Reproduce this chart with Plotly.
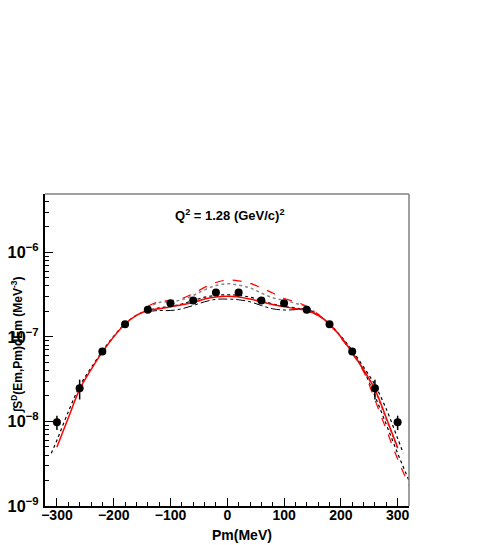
import plotly.graph_objects as go

# measured points
pm_data = [-300, -260, -220, -180, -140, -100, -60, -20, 20, 60, 100, 140, 180, 220, 260, 300]
sd_data = [9.8e-9, 2.47e-8, 6.7e-8, 1.41e-7, 2.09e-7, 2.5e-7, 2.69e-7, 3.34e-7,
           3.34e-7, 2.69e-7, 2.5e-7, 2.09e-7, 1.41e-7, 6.7e-8, 2.47e-8, 9.8e-9]
sd_err = [1.9e-9, 6.5e-9, 3e-9, 4e-9, 5e-9, 6e-9, 6e-9, 7e-9,
          7e-9, 6e-9, 6e-9, 5e-9, 4e-9, 3e-9, 6.5e-9, 1.9e-9]

# calculations
pm_full = [-300, -280, -260, -240, -220, -200, -180, -160, -140, -120, -100, -80, -60, -40, -20, 0,
           20, 40, 60, 80, 100, 120, 140, 160, 180, 200, 220, 240, 260, 280, 300]
red_solid = [5.0e-9, 1.1e-8, 2.4e-8, 4.1e-8, 6.6e-8, 1.0e-7, 1.42e-7, 1.8e-7, 2.05e-7, 2.15e-7, 2.27e-7,
             2.4e-7, 2.55e-7, 2.8e-7, 2.97e-7, 3.02e-7, 2.97e-7, 2.8e-7, 2.6e-7, 2.42e-7, 2.28e-7,
             2.15e-7, 2.05e-7, 1.8e-7, 1.42e-7, 1.0e-7, 6.6e-8, 4.1e-8, 2.4e-8, 1.1e-8, 4.9e-9]

pm_dotted = [-310, -300, -280, -260, -240, -220, -200, -180, -160, -140, -120, -100, -80, -60, -40, -20, 0,
             20, 40, 60, 80, 100, 120, 140, 160, 180, 200, 220, 240, 260, 280, 300, 310]
black_dotted = [4.2e-9, 6.0e-9, 1.3e-8, 2.6e-8, 4.3e-8, 6.8e-8, 1.02e-7, 1.43e-7, 1.8e-7, 2.05e-7, 2.2e-7,
                2.3e-7, 2.45e-7, 2.7e-7, 2.95e-7, 3.1e-7, 3.15e-7, 3.1e-7, 2.95e-7, 2.7e-7, 2.45e-7,
                2.3e-7, 2.2e-7, 2.05e-7, 1.8e-7, 1.43e-7, 1.02e-7, 6.9e-8, 4.4e-8, 2.7e-8, 1.4e-8, 6.3e-9, 4.2e-9]

pm_center = [-140, -120, -100, -80, -60, -40, -20, 0, 20, 40, 60, 80, 100, 120, 140, 160,
             180, 200, 220, 240, 260, 280, 300, 320]
red_dashed = [2.3e-7, 2.62e-7, 2.68e-7, 2.85e-7, 3.25e-7, 3.85e-7, 4.4e-7, 4.7e-7, 4.6e-7, 4.3e-7,
              3.8e-7, 3.3e-7, 2.85e-7, 2.6e-7, 2.3e-7, 1.85e-7, 1.4e-7, 9.8e-8, 6.4e-8, 3.9e-8,
              1.8e-8, 8.0e-9, 3.6e-9, 1.75e-9]
gray_dotted = [2.2e-7, 2.55e-7, 2.6e-7, 2.75e-7, 3.1e-7, 3.6e-7, 4.05e-7, 4.25e-7, 4.1e-7, 3.8e-7,
               3.3e-7, 2.9e-7, 2.7e-7, 2.5e-7, 2.25e-7, 1.85e-7, 1.42e-7, 1.0e-7, 6.4e-8, 4.0e-8,
               2.3e-8, 1.05e-8, 4.8e-9, None]

pm_dashdot = [-140, -120, -100, -80, -60, -40, -20, 0, 20, 40, 60, 80, 100, 120, 140, 160]
black_dashdot = [2.0e-7, 2.05e-7, 2.05e-7, 2.15e-7, 2.35e-7, 2.6e-7, 2.78e-7, 2.8e-7, 2.75e-7, 2.6e-7,
                 2.35e-7, 2.15e-7, 2.08e-7, 2.1e-7, 2.15e-7, 1.8e-7]

pm_tail = [200, 220, 240, 260, 280, 300, 320]
black_tail = [1.0e-7, 6.5e-8, 4.0e-8, 2.0e-8, 9.2e-9, 4.2e-9, 2.0e-9]

fnt = "Liberation Sans, Arial, sans-serif"

fig = go.Figure()
fig.add_trace(go.Scatter(x=pm_dotted, y=black_dotted, mode="lines", line_shape="spline",
                         line=dict(color="black", width=1.2, dash="dot")))
fig.add_trace(go.Scatter(x=pm_tail, y=black_tail, mode="lines", line_shape="spline",
                         line=dict(color="black", width=1.2, dash="dot")))
fig.add_trace(go.Scatter(x=pm_center, y=gray_dotted, mode="lines", line_shape="spline",
                         line=dict(color="#888888", width=1.5, dash="dot")))
fig.add_trace(go.Scatter(x=pm_dashdot, y=black_dashdot, mode="lines", line_shape="spline",
                         line=dict(color="black", width=1, dash="dashdot")))
fig.add_trace(go.Scatter(x=pm_center, y=red_dashed, mode="lines", line_shape="spline",
                         line=dict(color="red", width=1.2, dash="dash")))
fig.add_trace(go.Scatter(x=pm_full, y=red_solid, mode="lines", line_shape="spline",
                         line=dict(color="red", width=1.5)))
fig.add_trace(go.Scatter(x=pm_data, y=sd_data, mode="markers",
                         marker=dict(color="black", size=8),
                         error_y=dict(type="data", array=sd_err, color="black", thickness=1.5, width=0)))

# page body has an 8px margin, so the figure is 8px smaller
fig.update_layout(width=483, height=537, showlegend=False,
                  margin=dict(l=37, r=82, t=186, b=39, autoexpand=False),
                  plot_bgcolor="white", paper_bgcolor="white",
                  font=dict(family=fnt, color="black"))

fig.update_xaxes(range=[-321, 320], showline=True, linecolor="black", linewidth=1.5,
                 ticks="inside", ticklen=8, tickcolor="black", dtick=100, tick0=0,
                 showgrid=False, zeroline=False, automargin=False, ticklabelstandoff=-5,
                 tickfont=dict(size=14, weight="bold"),
                 minor=dict(ticks="inside", ticklen=4, dtick=20, tickcolor="black", showgrid=False))
fig.update_yaxes(type="log", range=[-9, -5.31], showline=True, linecolor="black", linewidth=1.5,
                 ticks="inside", ticklen=8, tickcolor="black", dtick=1, ticklabelstandoff=2,
                 exponentformat="power", showgrid=False, zeroline=False, automargin=False,
                 tickfont=dict(size=13, weight="bold"),
                 minor=dict(ticks="inside", ticklen=4, tickcolor="black", showgrid=False))

# gray frame on top and right
fig.add_shape(type="line", xref="paper", yref="paper", x0=0, x1=1, y0=1, y1=1,
              line=dict(color="#808080", width=1.5))
fig.add_shape(type="line", xref="paper", yref="paper", x0=1, x1=1, y0=0, y1=1,
              line=dict(color="#808080", width=1.5))

fig.add_annotation(text="Q<sup>2</sup> = 1.28 (GeV/c)<sup>2</sup>", xref="paper", yref="paper",
                   x=0.508, y=0.933, xanchor="center", yanchor="middle", showarrow=False,
                   font=dict(size=13, weight="bold"))
fig.add_annotation(text="Pm(MeV)", xref="paper", yref="paper", x=0.541, y=-0.093,
                   xanchor="center", yanchor="middle", showarrow=False,
                   font=dict(size=14, weight="bold"))
fig.add_annotation(text="\u222bS<sup>D</sup>(Em,Pm)dEm (MeV<sup>-3</sup>)", xref="paper", yref="paper",
                   x=-0.077, y=0.519, xanchor="center", yanchor="middle", textangle=-90,
                   showarrow=False, font=dict(size=12, weight="bold"))

fig.write_html("out.html")
